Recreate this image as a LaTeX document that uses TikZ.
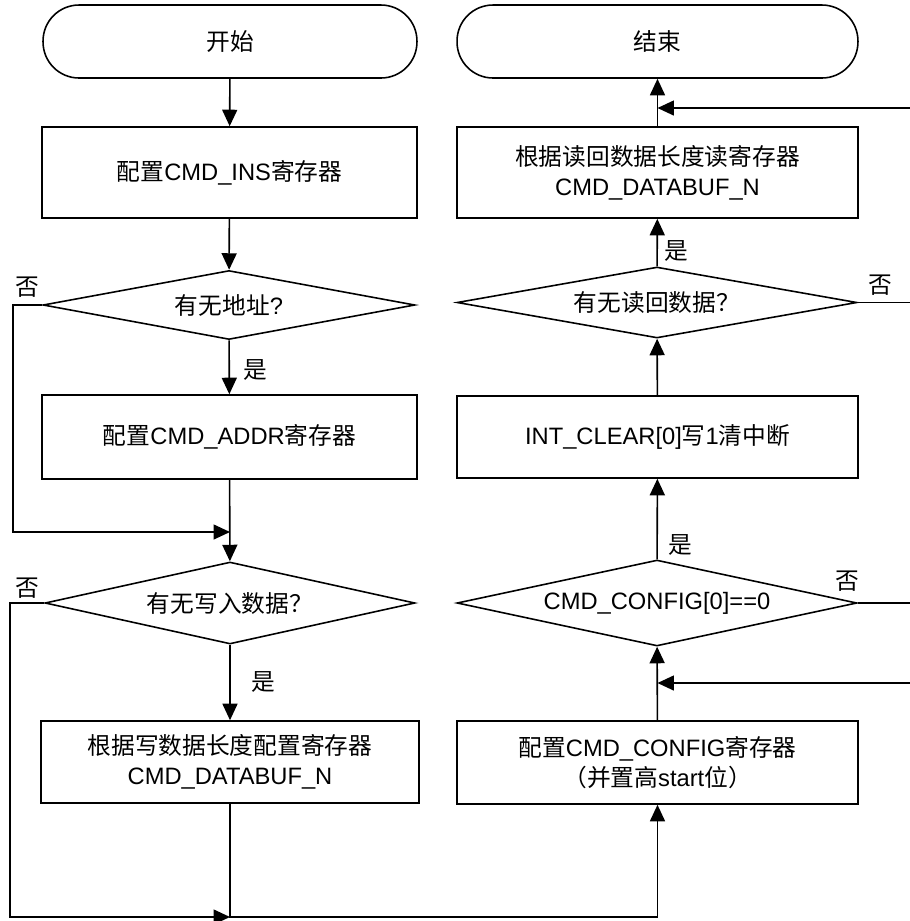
\documentclass[tikz,border=0pt]{standalone}
\usepackage{fontspec}
\setmainfont{Liberation Sans}
\newfontfamily\cjk{Noto Sans CJK SC}
\newcommand{\zh}[1]{{\cjk #1}}
\usetikzlibrary{arrows.meta,shapes.geometric}

\begin{document}
\begin{tikzpicture}[
  x=0.02cm, y=-0.02cm,
  line width=0.9pt,
  every node/.style={font=\fontsize{13.5}{17}\selectfont},
  term/.style={draw, rounded corners=0.72cm, minimum height=1.46cm, align=center},
  proc/.style={draw, align=center},
  dec/.style={draw, diamond, aspect=5, inner sep=0pt, align=center},
  arr/.style={-{Triangle[length=0.33cm, width=0.3cm]}},
  tag/.style={inner sep=1pt}
]
\useasboundingbox (0,0) rectangle (910,921);

% left column: command setup
\node[term, minimum width=7.48cm] (start) at (230,41.5) {\zh{开始}};
\node[proc, minimum width=7.5cm, minimum height=1.82cm] (cfgIns) at (229.5,172.5) {\zh{配置}CMD\_INS\zh{寄存器}};
\node[dec, minimum width=7.44cm, minimum height=1.38cm] (qAddr) at (229,305) {\zh{有无地址}?};
\node[proc, minimum width=7.5cm, minimum height=1.68cm] (cfgAddr) at (229.5,437) {\zh{配置}CMD\_ADDR\zh{寄存器}};
\node[dec, minimum width=7.4cm, minimum height=1.64cm] (qWr) at (230,603) {\zh{有无写入数据？}};
\node[proc, minimum width=7.56cm, minimum height=1.64cm] (cfgBuf) at (230,762) {\zh{根据写数据长度配置寄存器}\\CMD\_DATABUF\_N};

% right column: start and read back
\node[term, minimum width=8.02cm] (stop) at (657.5,41.5) {\zh{结束}};
\node[proc, minimum width=8.02cm, minimum height=1.82cm] (rdBuf) at (657.5,172.5) {\zh{根据读回数据长度读寄存器}\\CMD\_DATABUF\_N};
\node[dec, minimum width=8cm, minimum height=1.42cm] (qRd) at (657,302.5) {\zh{有无读回数据？}};
\node[proc, minimum width=8.02cm, minimum height=1.64cm] (intClr) at (657.5,437) {INT\_CLEAR[0]\zh{写}1\zh{清中断}};
\node[dec, minimum width=8cm, minimum height=1.72cm] (qCfg) at (657,603) {CMD\_CONFIG[0]==0};
\node[proc, minimum width=8.02cm, minimum height=1.66cm] (cfgReg) at (657.5,762.5) {\zh{配置}CMD\_CONFIG\zh{寄存器}\\\zh{（并置高}start\zh{位）}};

% helper points
\coordinate (loopA) at (13,532);
\coordinate (merge) at (230,532);
\coordinate (loopB) at (10,917);
\coordinate (bot) at (230,917);
\coordinate (outRd) at (910,302.5);
\coordinate (backRd) at (910,108);
\coordinate (outCfg) at (910,603);
\coordinate (backCfg) at (910,683);

% left flow
\draw[arr] (start) -- (cfgIns);
\draw[arr] (cfgIns) -- (qAddr);
\draw[arr] (qAddr) -- (cfgAddr);
\draw[arr] (cfgAddr) -- (qWr);
\draw[arr] (qAddr.west) -| (loopA) -- (merge);
\draw[arr] (qWr) -- (cfgBuf);
\draw[arr] (qWr.west) -| (loopB) -- (bot);
\draw[arr] (cfgBuf.south) -- (bot) -| (cfgReg.south);

% right flow
\draw[arr] (cfgReg) -- (qCfg);
\draw[arr] (qCfg) -- (intClr);
\draw[arr] (intClr) -- (qRd);
\draw[arr] (qRd) -- (rdBuf);
\draw[arr] (rdBuf) -- (stop);
\draw (qRd.east) -- (outRd);
\draw (qCfg.east) -- (outCfg);
\draw[arr] (backRd) -- (backRd -| stop.south);
\draw[arr] (backCfg) -- (backCfg -| cfgReg.north);

% branch labels
\node[tag] (noAddr) at (27,287) {\zh{否}};
\node[tag] (yesAddr) at (255,370) {\zh{是}};
\node[tag] (noWr) at (27,588) {\zh{否}};
\node[tag] (yesWr) at (263,682) {\zh{是}};
\node[tag] (yesRd) at (676,251) {\zh{是}};
\node[tag] (noRd) at (880,285) {\zh{否}};
\node[tag] (yesCfg) at (680,545) {\zh{是}};
\node[tag] (noCfg) at (847,581) {\zh{否}};

\end{tikzpicture}
\end{document}
